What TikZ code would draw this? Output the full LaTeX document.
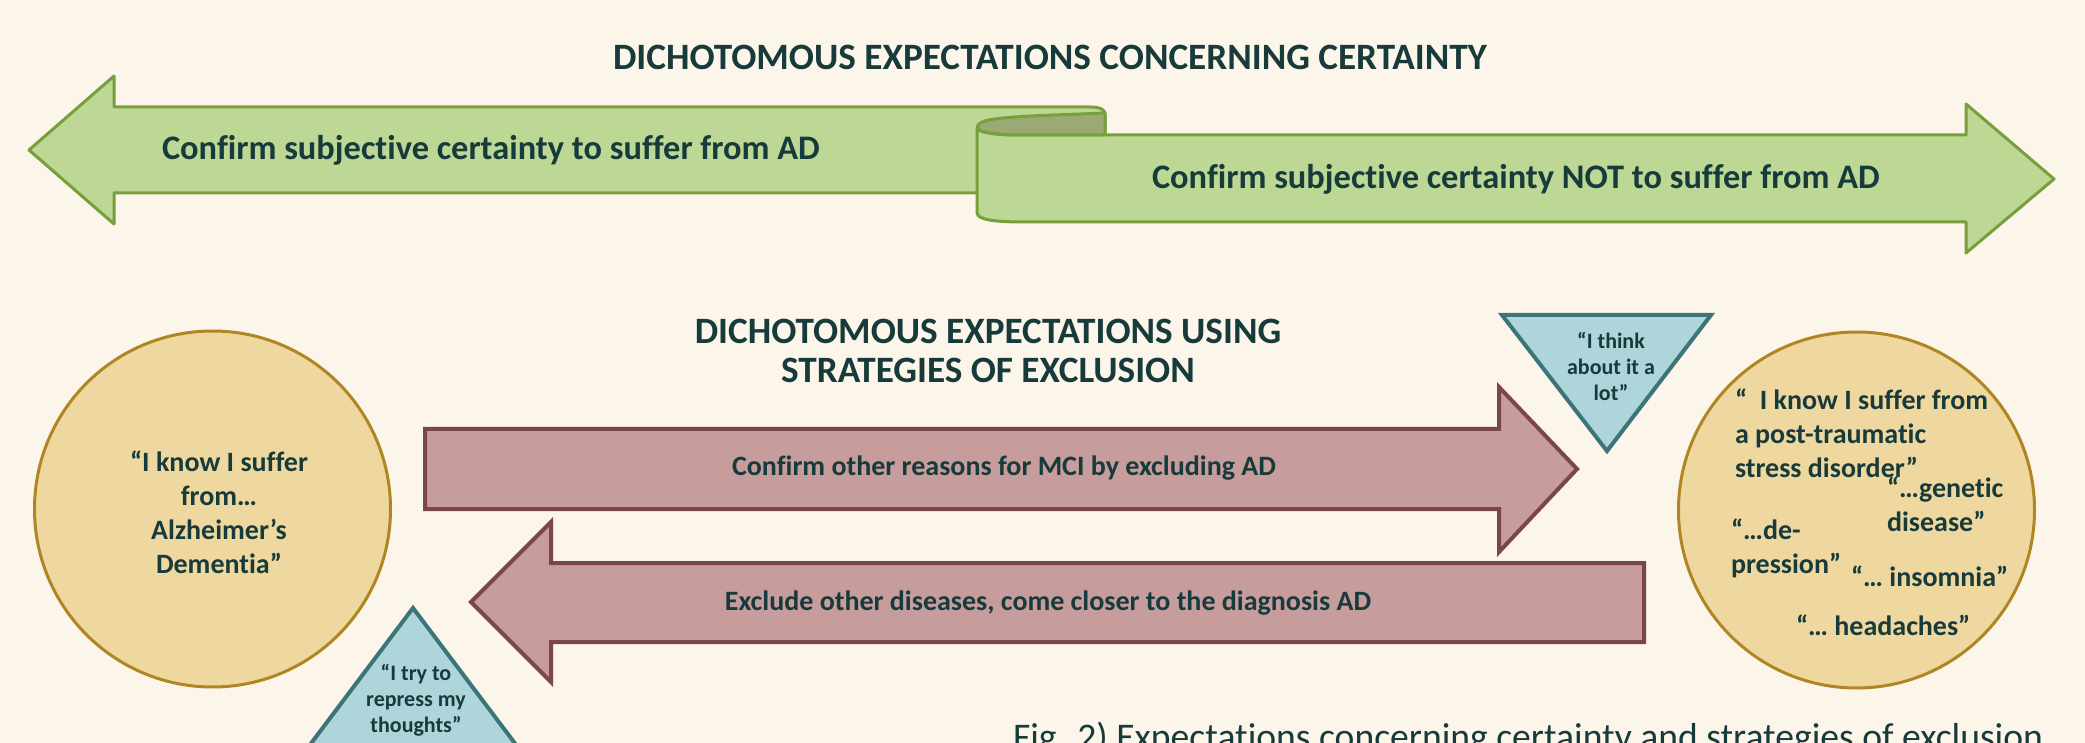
\documentclass[tikz,border=0pt]{standalone}
\usepackage{fontspec}
\setmainfont{Carlito}[Ligatures={TeX,NoCommon}]
\definecolor{bgc}{RGB}{251,245,234}
\definecolor{tcol}{RGB}{23,58,58}
\definecolor{gfill}{RGB}{189,215,148}
\definecolor{gline}{RGB}{119,160,60}
\definecolor{gdark}{RGB}{155,170,116}
\definecolor{rfill}{RGB}{199,156,156}
\definecolor{rline}{RGB}{122,70,70}
\definecolor{yfill}{RGB}{239,216,160}
\definecolor{yline}{RGB}{176,134,35}
\definecolor{bfill}{RGB}{173,213,218}
\definecolor{bline}{RGB}{61,116,122}
\begin{document}
\begin{tikzpicture}[x=0.5pt,y=-0.5pt,
  txt/.style={text=tcol, inner sep=0pt, outer sep=0pt},
  titlefont/.style={font=\fontsize{18.6}{19.5}\selectfont\bfseries},
  greenbox/.style={fill=gfill, draw=gline, line width=1.5pt, line join=round},
  redbox/.style={fill=rfill, draw=rline, line width=2pt, line join=miter},
  yelcirc/.style={circle, fill=yfill, draw=yline, line width=1.5pt, minimum size=178pt, inner sep=0pt},
  bluebox/.style={fill=bfill, draw=bline, line width=2pt, line join=miter},
  ]
\useasboundingbox (0,0) rectangle (2085,743);
\fill[bgc] (0,0) rectangle (2085,743);
\clip (0,0) rectangle (2085,743);

% top title
\node[txt, titlefont, anchor=base] (title1) at (1050,70) {DICHOTOMOUS EXPECTATIONS CONCERNING CERTAINTY};

% green ribbon arrows
\draw[greenbox] (29,150) -- (114,76) -- (114,107) -- (1090,107)
  .. controls (1101,107) and (1105,110) .. (1105,114) -- (1105,193) -- (114,193) -- (114,224) -- cycle;
\draw[greenbox] (977,128) -- (977,213) .. controls (978,220) and (995,222) .. (1025,222)
  -- (1966,222) -- (1966,253) -- (2054,179) -- (1966,104) -- (1966,135) -- (1017,135)
  .. controls (995,135) and (977,132) .. (977,128) -- cycle;
\draw[greenbox, fill=gdark] (1105,113) .. controls (1060,115) and (1000,116) .. (985,121)
  .. controls (975,124) and (975,130) .. (985,132) .. controls (995,134) and (1005,135) .. (1017,135)
  -- (1105,135) -- cycle;
\node[txt, font=\fontsize{17.2}{20}\selectfont\bfseries, anchor=base west] (gtext1) at (162,160) {Confirm subjective certainty to suffer from AD};
\node[txt, font=\fontsize{17.2}{20}\selectfont\bfseries, anchor=base west] (gtext2) at (1152,189) {Confirm subjective certainty NOT to suffer from AD};

% second title
\node[txt, titlefont, align=center, anchor=north] (title2) at (988,319) {DICHOTOMOUS EXPECTATIONS USING\\STRATEGIES OF EXCLUSION};

% red arrows
\draw[redbox] (425,429) -- (1499,429) -- (1499,387) -- (1577,469) -- (1499,552) -- (1499,509) -- (425,509) -- cycle;
\draw[redbox] (1644,563) -- (551,563) -- (551,522) -- (471,602) -- (551,682) -- (551,642) -- (1644,642) -- cycle;
\node[txt, font=\fontsize{14}{17}\selectfont\bfseries, anchor=base] (rtext1) at (1004,475) {Confirm other reasons for MCI by excluding AD};
\node[txt, font=\fontsize{14}{17}\selectfont\bfseries, anchor=base] (rtext2) at (1048,610) {Exclude other diseases, come closer to the diagnosis AD};

% circles
\node[yelcirc] (lcirc) at (212.5,509) {};
\node[yelcirc] (rcirc) at (1856.5,510) {};
\node[txt, font=\fontsize{14}{17}\selectfont\bfseries, align=center, anchor=north] (ltext) at (219,451) {“I know I suffer\\from…\\Alzheimer’s\\Dementia”};

% triangles
\draw[bluebox] (1502,315) -- (1711,315) -- (1607,451) -- cycle;
\draw[bluebox] (413,608) -- (535,770) -- (291,770) -- cycle;
\node[txt, font=\fontsize{11}{13}\selectfont\bfseries, align=center, anchor=north] (tritext1) at (1611,332) {“I think\\about it a\\lot”};
\node[txt, font=\fontsize{11}{13}\selectfont\bfseries, align=center, anchor=north] (tritext2) at (416,664) {“I try to\\repress my\\thoughts”};

% right circle texts
\node[txt, font=\fontsize{14}{17}\selectfont\bfseries, align=left, anchor=north west] (rcA) at (1735,389) {“\ \ I know I suffer from\\a post-traumatic\\stress disorder”};
\node[txt, font=\fontsize{14}{17}\selectfont\bfseries, align=left, anchor=north west] (rcB) at (1887,477) {“…genetic\\disease”};
\node[txt, font=\fontsize{14}{17}\selectfont\bfseries, align=left, anchor=north west] (rcC) at (1731,519) {“…de-\\pression”};
\node[txt, font=\fontsize{14}{17}\selectfont\bfseries, anchor=base west] (rcD) at (1851,586) {“… insomnia”};
\node[txt, font=\fontsize{14}{17}\selectfont\bfseries, anchor=base west] (rcE) at (1796,635) {“… headaches”};

% caption
\node[txt, font=\fontsize{18.8}{22}\selectfont, anchor=base west] (caption) at (1013,749) {Fig. 2) Expectations concerning certainty and strategies of exclusion};
\end{tikzpicture}
\end{document}
